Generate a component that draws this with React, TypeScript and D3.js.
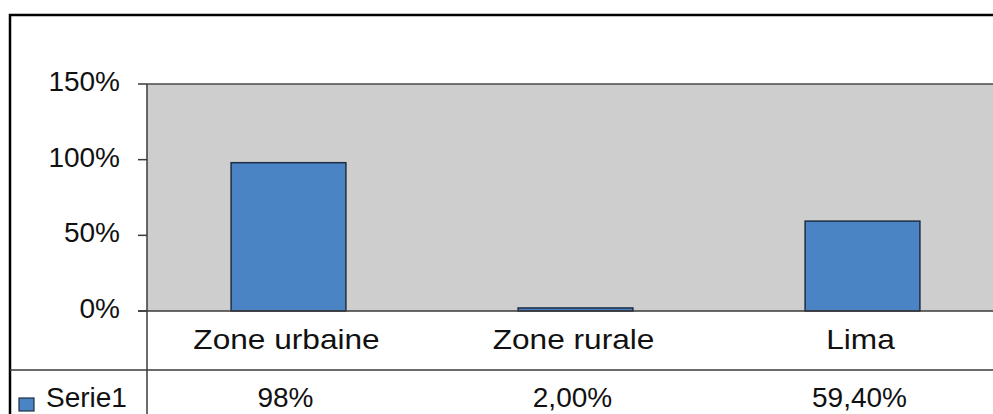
import { useEffect, useRef } from "react"
import * as d3 from "d3"

const categories = ["Zone urbaine", "Zone rurale", "Lima"]
const serie1 = [0.98, 0.02, 0.594]
const serie1Labels = ["98%", "2,00%", "59,40%"]
const yTicks = [0, 0.5, 1, 1.5]
const seriesName = "Serie1"

const W = 993
const H = 414
const FONT = "'Liberation Sans', Arial, sans-serif"

const App = () => {
  const svgRef = useRef<SVGSVGElement | null>(null)

  useEffect(() => {
    const svg = d3.select(svgRef.current)
    svg.selectAll("*").remove()

    const plotLeft = 147
    const plotTop = 84
    const plotBottom = 311
    const rowLine = 370

    const x = d3.scaleBand().domain(categories).range([145, 145 + 3 * 287]).paddingInner(0).paddingOuter(0)
    const y = d3.scaleLinear().domain([0, 1.5]).range([plotBottom, plotTop])

    // outer frame (cropped at right and bottom)
    svg.append("rect")
      .attr("x", 10).attr("y", 15)
      .attr("width", W + 20).attr("height", H + 20)
      .attr("fill", "white")
      .attr("stroke", "black").attr("stroke-width", 2.5)

    // plot area
    svg.append("rect")
      .attr("x", plotLeft).attr("y", plotTop)
      .attr("width", W - plotLeft + 10).attr("height", plotBottom - plotTop)
      .attr("fill", "#cecece")
    svg.append("line")
      .attr("x1", plotLeft).attr("x2", W)
      .attr("y1", plotTop).attr("y2", plotTop)
      .attr("stroke", "#4a4a4a").attr("stroke-width", 1.5)

    // bars
    const bw = x.bandwidth() * 0.4
    svg.selectAll(".bar")
      .data(serie1)
      .enter()
      .append("rect")
      .attr("class", "bar")
      .attr("x", (_, i) => x(categories[i])! + x.bandwidth() / 2 - bw / 2)
      .attr("y", (d) => y(d))
      .attr("width", bw)
      .attr("height", (d) => y(0) - y(d))
      .attr("fill", "#4b84c4")
      .attr("stroke", "#1e2d44").attr("stroke-width", 1.5)

    // y axis
    const yAxis = svg.append("g")
    yAxis.append("line")
      .attr("x1", plotLeft).attr("x2", plotLeft)
      .attr("y1", plotTop).attr("y2", H)
      .attr("stroke", "#3a3a3a").attr("stroke-width", 1.5)
    yTicks.forEach((t) => {
      yAxis.append("line")
        .attr("x1", 138).attr("x2", plotLeft)
        .attr("y1", y(t)).attr("y2", y(t))
        .attr("stroke", "#3a3a3a").attr("stroke-width", 1.5)
      yAxis.append("text")
        .attr("x", 120).attr("y", y(t) + 7)
        .attr("text-anchor", "end")
        .attr("font-family", FONT).attr("font-size", 28)
        .attr("fill", "#111")
        .text(d3.format(".0%")(t))
    })

    // x axis / table lines
    svg.append("line")
      .attr("x1", 138).attr("x2", W)
      .attr("y1", plotBottom).attr("y2", plotBottom)
      .attr("stroke", "#3a3a3a").attr("stroke-width", 1.5)
    svg.append("line")
      .attr("x1", 10).attr("x2", W)
      .attr("y1", rowLine).attr("y2", rowLine)
      .attr("stroke", "#3a3a3a").attr("stroke-width", 1.5)

    // category labels (slightly wide glyphs in the reference)
    categories.forEach((c) => {
      svg.append("text")
        .attr("transform", `translate(${x(c)! + x.bandwidth() / 2 - 2},349) scale(1.13,1)`)
        .attr("text-anchor", "middle")
        .attr("font-family", FONT).attr("font-size", 28)
        .attr("fill", "#111")
        .text(c)
    })

    // data row
    serie1Labels.forEach((l, i) => {
      svg.append("text")
        .attr("x", x(categories[i])! + x.bandwidth() / 2 - 3)
        .attr("y", 407)
        .attr("text-anchor", "middle")
        .attr("font-family", FONT).attr("font-size", 28)
        .attr("fill", "#111")
        .text(l)
    })

    // legend key
    svg.append("rect")
      .attr("x", 19).attr("y", 398)
      .attr("width", 15).attr("height", 13)
      .attr("fill", "#4b84c4")
      .attr("stroke", "#1e2d44").attr("stroke-width", 1.2)
    svg.append("text")
      .attr("x", 46).attr("y", 407)
      .attr("font-family", FONT).attr("font-size", 28)
      .attr("fill", "#111")
      .text(seriesName)
  }, [])

  return (
    <svg
      ref={svgRef}
      width={W}
      height={H}
      style={{ position: "absolute", left: 0, top: 0, background: "white" }}
    />
  )
}

export default App
